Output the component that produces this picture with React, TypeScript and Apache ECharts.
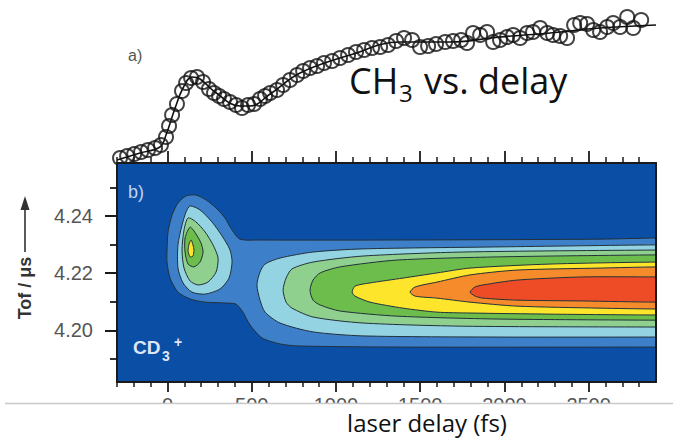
import React, { useEffect, useRef } from "react";
import * as echarts from "echarts";

// ---- axis ticks ----
const majorX = [0, 500, 1000, 1500, 2000, 2500];
const minorX = [-300, -200, -100, 100, 200, 300, 400, 600, 700, 800, 900, 1100, 1200, 1300, 1400, 1600, 1700, 1800, 1900, 2100, 2200, 2300, 2400, 2600, 2700, 2800];
const majorY = [4.2, 4.22, 4.24];
const minorY = [4.19, 4.21, 4.23, 4.25];

// ---- panel a: CH3 signal vs delay (fs, arb. units) ----
const delayFs = [-282, -240, -198, -157, -116, -74, -39, -9, 9, 27, 56, 86, 110, 140, 175, 211, 246, 276, 306, 335, 371, 407, 442, 478, 514, 549, 579, 609, 650, 686, 727, 769, 805, 846, 888, 929, 977, 1024, 1072, 1119, 1167, 1214, 1262, 1309, 1357, 1404, 1452, 1499, 1547, 1594, 1648, 1695, 1743, 1778, 1814, 1856, 1897, 1933, 1974, 2016, 2052, 2093, 2135, 2170, 2212, 2254, 2289, 2331, 2372, 2414, 2450, 2491, 2527, 2568, 2610, 2646, 2687, 2729, 2765, 2812];
const ch3Signal = [0.05, 0.07, 0.09, 0.11, 0.13, 0.15, 0.18, 0.26, 0.37, 0.48, 0.59, 0.72, 0.8, 0.85, 0.86, 0.81, 0.74, 0.7, 0.67, 0.64, 0.61, 0.58, 0.55, 0.58, 0.59, 0.64, 0.67, 0.7, 0.73, 0.78, 0.83, 0.88, 0.92, 0.95, 0.97, 1.0, 1.02, 1.05, 1.08, 1.11, 1.13, 1.15, 1.16, 1.18, 1.22, 1.25, 1.23, 1.16, 1.17, 1.19, 1.21, 1.22, 1.23, 1.2, 1.3, 1.28, 1.31, 1.21, 1.23, 1.26, 1.28, 1.25, 1.3, 1.31, 1.35, 1.3, 1.28, 1.27, 1.25, 1.38, 1.4, 1.39, 1.33, 1.31, 1.36, 1.4, 1.36, 1.46, 1.35, 1.43];
const fitDelay = [-300, -163, -45, -9, 45, 92, 145, 193, 282, 430, 490, 609, 787, 1084, 1381, 1677, 1974, 2271, 2568, 2900];
const fitSignal = [0.03, 0.1, 0.16, 0.28, 0.55, 0.75, 0.86, 0.84, 0.71, 0.57, 0.57, 0.69, 0.9, 1.08, 1.21, 1.21, 1.26, 1.3, 1.35, 1.38];

// ---- panel b: CD3+ contour levels, [delay fs, Tof µs] (bands continue past the frame edge) ----
const levelBackground = [[-300, 4.182], [2900, 4.182], [2900, 4.2585], [-300, 4.2585]];
const level1 = [[-3, 4.2281], [3, 4.2344], [27, 4.2403], [62, 4.2445], [110, 4.247], [169, 4.2473], [229, 4.2456], [288, 4.2428], [341, 4.2393], [383, 4.2351], [430, 4.2319], [549, 4.2316], [1381, 4.2316], [2568, 4.2319], [2900, 4.2323], [3300, 4.2323], [3300, 4.1942], [2900, 4.1942], [1381, 4.1942], [772, 4.1946], [668, 4.1953], [561, 4.1974], [490, 4.2019], [448, 4.2064], [407, 4.2092], [341, 4.2096], [223, 4.2099], [134, 4.211], [62, 4.2134], [15, 4.2183], [-3, 4.2239]];
const level2Blob = [[134, 4.2435], [193, 4.2421], [264, 4.2379], [324, 4.233], [371, 4.2281], [383, 4.2239], [365, 4.2183], [312, 4.2145], [223, 4.2127], [145, 4.2134], [92, 4.2166], [62, 4.2218], [62, 4.2299], [86, 4.2368], [110, 4.2414]];
const level2Band = [[531, 4.2159], [549, 4.2204], [579, 4.2232], [668, 4.2253], [864, 4.2274], [1161, 4.2285], [1974, 4.2292], [2900, 4.2299], [3300, 4.2299], [3300, 4.1977], [2900, 4.1977], [1974, 4.1977], [1161, 4.1981], [864, 4.1995], [668, 4.2026], [579, 4.2064], [549, 4.2106]];
const level3Blob = [[122, 4.2393], [169, 4.2379], [223, 4.2344], [270, 4.2299], [300, 4.2253], [288, 4.2204], [240, 4.2169], [181, 4.2159], [134, 4.2173], [98, 4.2218], [86, 4.2281], [98, 4.2351]];
const level3Band = [[686, 4.2141], [704, 4.2183], [739, 4.2215], [864, 4.2239], [1161, 4.226], [1755, 4.2274], [2900, 4.2281], [3300, 4.2281], [3300, 4.2012], [2900, 4.2012], [1755, 4.2015], [1161, 4.2026], [864, 4.2047], [739, 4.2078], [704, 4.2099]];
const level4Blob = [[134, 4.2361], [169, 4.2337], [199, 4.2305], [211, 4.2274], [193, 4.2239], [157, 4.2222], [122, 4.2232], [104, 4.2274], [104, 4.2323]];
const level4Band = [[846, 4.2141], [864, 4.2176], [906, 4.2201], [1024, 4.2222], [1363, 4.2246], [1957, 4.2257], [2900, 4.2264], [3300, 4.2264], [3300, 4.2036], [2900, 4.2036], [1957, 4.204], [1363, 4.205], [1024, 4.2068], [906, 4.2089], [864, 4.2106]];
const level5Blob = [[140, 4.2316], [151, 4.2299], [157, 4.2281], [151, 4.226], [134, 4.2257], [122, 4.2278], [128, 4.2302]];
const level5Band = [[1096, 4.2134], [1113, 4.2155], [1202, 4.2166], [1398, 4.2183], [1600, 4.2201], [1796, 4.2218], [2271, 4.2232], [2900, 4.2239], [3300, 4.2239], [3300, 4.2054], [2900, 4.2054], [2271, 4.2057], [1796, 4.2061], [1600, 4.2064], [1398, 4.2078], [1202, 4.2099], [1113, 4.212]];
const level6Band = [[1440, 4.2134], [1470, 4.2152], [1600, 4.2169], [1796, 4.2194], [2075, 4.2211], [2568, 4.2218], [2900, 4.2222], [3300, 4.2222], [3300, 4.2075], [2900, 4.2075], [2568, 4.2078], [2075, 4.2085], [1796, 4.2099], [1600, 4.2113], [1470, 4.212]];
const level7Band = [[1796, 4.2134], [1826, 4.2152], [1873, 4.2159], [2075, 4.2176], [2467, 4.2187], [2900, 4.2187], [3300, 4.2187], [3300, 4.2099], [2900, 4.2099], [2467, 4.2103], [2075, 4.2106], [1873, 4.2113], [1826, 4.212]];

const contourLevels = [levelBackground, level1, level2Blob, level2Band, level3Blob, level3Band, level4Blob, level4Band, level5Blob, level5Band, level6Band, level7Band];
const contourFills = ["#0b4ea6", "#3d7fc9", "#93d3e2", "#93d3e2", "#8fd08f", "#8fd08f", "#6cbd4c", "#6cbd4c", "#fde52c", "#fde52c", "#f68b2c", "#ee4c27"];

const AXIS_COLOR = "#1a1a1a";
const LABEL_FONT = "Liberation Sans";

export default function App() {
  const ref = useRef<HTMLDivElement>(null);

  useEffect(() => {
    document.body.style.margin = "0";
    const chart = echarts.init(ref.current!, undefined, { renderer: "svg" });

    const gridB = 1;
    const baseX = (extra: any) => ({
      type: "value",
      gridIndex: gridB,
      min: -300,
      max: 2900,
      z: 10,
      splitLine: { show: false },
      ...extra,
    });
    const baseY = (extra: any) => ({
      type: "value",
      gridIndex: gridB,
      min: 4.182,
      max: 4.2585,
      z: 10,
      splitLine: { show: false },
      ...extra,
    });
    const line = { show: true, onZero: false, lineStyle: { color: AXIS_COLOR, width: 2 } };
    const noLine = { show: false, onZero: false };

    const option: any = {
      animation: false,
      backgroundColor: "#ffffff",
      grid: [
        { left: 117, top: 0, width: 539, height: 163 },
        { left: 117, top: 163, width: 539, height: 219 },
      ],
      xAxis: [
        { type: "value", gridIndex: 0, min: -300, max: 2900, show: false },
        baseX({
          position: "bottom",
          axisLine: line,
          axisTick: { show: true, customValues: minorX, length: 5, lineStyle: { color: AXIS_COLOR, width: 1.5 } },
          axisLabel: { show: false },
        }),
        baseX({
          position: "bottom",
          axisLine: noLine,
          axisTick: { show: true, customValues: majorX, length: 10, lineStyle: { color: AXIS_COLOR, width: 1.8 } },
          axisLabel: {
            show: true,
            customValues: majorX,
            margin: 13,
            fontSize: 20,
            color: "#555555",
            fontFamily: LABEL_FONT,
            formatter: (v: number) => String(v),
          },
        }),
        baseX({
          position: "top",
          axisLine: line,
          axisTick: { show: true, customValues: minorX, length: 6, lineStyle: { color: AXIS_COLOR, width: 1.5 } },
          axisLabel: { show: false },
        }),
        baseX({
          position: "top",
          axisLine: noLine,
          axisTick: { show: true, customValues: majorX, length: 12, lineStyle: { color: AXIS_COLOR, width: 1.8 } },
          axisLabel: { show: false },
        }),
      ],
      yAxis: [
        { type: "value", gridIndex: 0, min: 0, max: 1.63, show: false },
        baseY({
          position: "left",
          axisLine: line,
          axisTick: { show: true, customValues: minorY, length: 7, lineStyle: { color: AXIS_COLOR, width: 1.8 } },
          axisLabel: { show: false },
        }),
        baseY({
          position: "left",
          axisLine: noLine,
          axisTick: { show: true, customValues: majorY, length: 12, lineStyle: { color: AXIS_COLOR, width: 2 } },
          axisLabel: {
            show: true,
            customValues: majorY,
            margin: 24,
            fontSize: 20,
            color: "#555555",
            fontFamily: LABEL_FONT,
            formatter: (v: number) => v.toFixed(2),
          },
        }),
        baseY({
          position: "right",
          axisLine: line,
          axisTick: { show: false },
          axisLabel: { show: false },
        }),
      ],
      series: [
        {
          type: "line",
          xAxisIndex: 0,
          yAxisIndex: 0,
          data: fitDelay.map((x, i) => [x, fitSignal[i]]),
          smooth: 0.4,
          showSymbol: false,
          symbol: "none",
          lineStyle: { color: "#111111", width: 1.6 },
          z: 2,
        },
        {
          type: "scatter",
          xAxisIndex: 0,
          yAxisIndex: 0,
          data: delayFs.map((x, i) => [x, ch3Signal[i]]),
          symbol: "circle",
          symbolSize: 14,
          itemStyle: { color: "rgba(255,255,255,0)", borderColor: "#141414", borderWidth: 2 },
          z: 2,
        },
        {
          type: "custom",
          xAxisIndex: 1,
          yAxisIndex: 1,
          clip: true,
          z: 3,
          data: contourLevels.map((_, i) => [i * 100, 4.2]),
          renderItem: (params: any, api: any) => {
            const idx = params.dataIndex;
            const pts = contourLevels[idx].map((p) => api.coord(p));
            return {
              type: "polygon",
              shape: { points: pts, smooth: idx === 0 ? 0 : 0.25 },
              style: {
                fill: contourFills[idx],
                stroke: idx === 0 ? "none" : "#22313a",
                lineWidth: idx === 0 ? 0 : 1,
              },
            };
          },
        },
      ],
      graphic: [
        {
          type: "text", z: 100, x: 128, y: 55,
          style: { text: "a)", fontSize: 16, fontFamily: LABEL_FONT, fill: "#555555", textAlign: "left", align: "left", textVerticalAlign: "middle", verticalAlign: "middle" },
        },
        {
          type: "text", z: 100, x: 349, y: 80,
          style: { text: "CH", fontSize: 36, fontFamily: "Open Sans", fill: "#111111", textAlign: "left", align: "left", textVerticalAlign: "middle", verticalAlign: "middle" },
        },
        {
          type: "text", z: 100, x: 399, y: 92,
          style: { text: "3", fontSize: 24, fontFamily: "Open Sans", fill: "#111111", textAlign: "left", align: "left", textVerticalAlign: "middle", verticalAlign: "middle" },
        },
        {
          type: "text", z: 100, x: 424, y: 80,
          style: { text: "vs. delay", fontSize: 36, fontFamily: "Open Sans", fill: "#111111", textAlign: "left", align: "left", textVerticalAlign: "middle", verticalAlign: "middle" },
        },
        {
          type: "text", z: 100, x: 128, y: 192,
          style: { text: "b)", fontSize: 18, fontFamily: LABEL_FONT, fill: "#c3d3ee", textAlign: "left", align: "left", textVerticalAlign: "middle", verticalAlign: "middle" },
        },
        {
          type: "text", z: 100, x: 133, y: 347,
          style: { text: "CD", fontSize: 19, fontWeight: "bold", fontFamily: LABEL_FONT, fill: "#dfe7f6", textAlign: "left", align: "left", textVerticalAlign: "middle", verticalAlign: "middle" },
        },
        {
          type: "text", z: 100, x: 162, y: 356,
          style: { text: "3", fontSize: 14, fontWeight: "bold", fontFamily: LABEL_FONT, fill: "#dfe7f6", textAlign: "left", align: "left", textVerticalAlign: "middle", verticalAlign: "middle" },
        },
        {
          type: "text", z: 100, x: 174, y: 342,
          style: { text: "+", fontSize: 14, fontWeight: "bold", fontFamily: LABEL_FONT, fill: "#dfe7f6", textAlign: "left", align: "left", textVerticalAlign: "middle", verticalAlign: "middle" },
        },
        {
          type: "text", z: 100, x: 25, y: 288, rotation: Math.PI / 2,
          style: { text: "Tof / μs", fontSize: 18, fontWeight: "bold", fontFamily: LABEL_FONT, fill: "#333333", textAlign: "center", align: "center", textVerticalAlign: "middle", verticalAlign: "middle" },
        },
        {
          type: "line", z: 100,
          shape: { x1: 25, y1: 252, x2: 25, y2: 208 },
          style: { stroke: "#333333", lineWidth: 1.6 },
        },
        {
          type: "polygon", z: 100,
          shape: { points: [[25, 196], [20.5, 210], [29.5, 210]] },
          style: { fill: "#333333" },
        },
        {
          type: "rect", z: 100,
          shape: { x: 0, y: 404, width: 673, height: 34 },
          style: { fill: "#ffffff" },
        },
        {
          type: "line", z: 101,
          shape: { x1: 5, y1: 403.5, x2: 673, y2: 403.5 },
          style: { stroke: "#c9c9c9", lineWidth: 1.5 },
        },
        {
          type: "text", z: 102, x: 427, y: 422,
          style: { text: "laser delay (fs)", fontSize: 24, fontFamily: "Open Sans", fill: "#111111", textAlign: "center", align: "center", textVerticalAlign: "middle", verticalAlign: "middle" },
        },
      ],
    };

    chart.setOption(option);
    return () => chart.dispose();
  }, []);

  return (
    <div
      ref={ref}
      style={{ position: "absolute", left: 0, top: 0, width: 673, height: 438, background: "#ffffff" }}
    />
  );
}
